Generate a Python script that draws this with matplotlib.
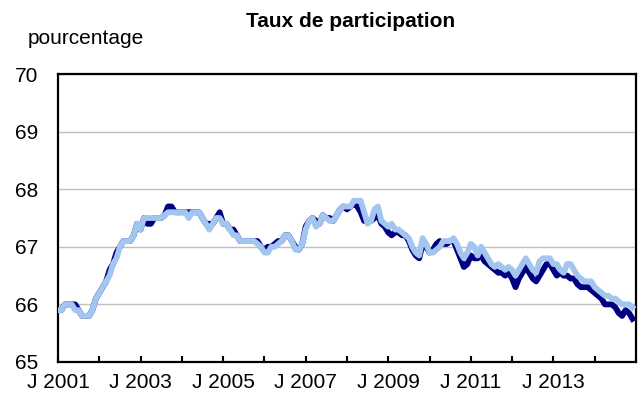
import numpy as np
import matplotlib
matplotlib.use("Agg")
import matplotlib.pyplot as plt

plt.rcParams["font.family"] = ["Liberation Sans", "DejaVu Sans"]

# monthly, Jan 2001 - Dec 2014
start_year = 2001
light = [
    65.9, 65.9, 66.0, 66.0, 66.0, 65.9, 65.9, 65.8, 65.8, 65.8, 65.9, 66.1,
    66.2, 66.3, 66.4, 66.5, 66.7, 66.8, 67.0, 67.1, 67.1, 67.1, 67.2, 67.4,
    67.3, 67.5, 67.5, 67.5, 67.5, 67.5, 67.5, 67.55, 67.6, 67.6, 67.6, 67.6,
    67.6, 67.6, 67.5, 67.6, 67.6, 67.6, 67.5, 67.4, 67.3, 67.4, 67.5, 67.5,
    67.4, 67.4, 67.3, 67.2, 67.2, 67.1, 67.1, 67.1, 67.1, 67.1, 67.05, 67.0,
    66.9, 66.9, 67.0, 67.0, 67.05, 67.1, 67.2, 67.2, 67.1, 66.95, 66.95, 67.05,
    67.3, 67.45, 67.5, 67.35, 67.4, 67.55, 67.5, 67.45, 67.45, 67.55, 67.65, 67.7,
    67.7, 67.7, 67.8, 67.8, 67.8, 67.6, 67.4, 67.45, 67.65, 67.7, 67.45, 67.4,
    67.35, 67.4, 67.3, 67.3, 67.25, 67.2, 67.15, 67.0, 66.9, 66.85, 67.15, 67.05,
    66.9, 66.9, 66.95, 67.0, 67.1, 67.1, 67.1, 67.15, 67.05, 66.9, 66.8, 66.9,
    67.05, 67.0, 66.85, 67.0, 66.9, 66.8, 66.7, 66.65, 66.7, 66.65, 66.6, 66.65,
    66.6, 66.5, 66.6, 66.7, 66.8, 66.7, 66.6, 66.55, 66.75, 66.8, 66.8, 66.8,
    66.7, 66.7, 66.6, 66.55, 66.7, 66.7, 66.6, 66.5, 66.45, 66.4, 66.4, 66.4,
    66.3, 66.25, 66.2, 66.15, 66.15, 66.1, 66.1, 66.05, 66.0, 66.0, 66.0, 65.95,
]
dark = [
    65.9, 65.9, 66.0, 66.0, 66.0, 66.0, 65.9, 65.8, 65.8, 65.8, 65.9, 66.1,
    66.2, 66.3, 66.4, 66.6, 66.7, 66.9, 67.0, 67.1, 67.1, 67.1, 67.2, 67.4,
    67.3, 67.5, 67.4, 67.4, 67.5, 67.5, 67.5, 67.55, 67.7, 67.7, 67.6, 67.6,
    67.6, 67.6, 67.6, 67.6, 67.6, 67.6, 67.5, 67.4, 67.4, 67.4, 67.5, 67.6,
    67.4, 67.4, 67.3, 67.3, 67.2, 67.1, 67.1, 67.1, 67.1, 67.1, 67.1, 67.0,
    66.95, 67.0, 67.0, 67.05, 67.1, 67.1, 67.2, 67.2, 67.1, 67.0, 66.95, 67.05,
    67.35, 67.45, 67.5, 67.45, 67.4, 67.55, 67.5, 67.5, 67.45, 67.55, 67.65, 67.7,
    67.65, 67.7, 67.75, 67.7, 67.6, 67.45, 67.45, 67.45, 67.5, 67.55, 67.4, 67.35,
    67.25, 67.2, 67.25, 67.25, 67.2, 67.2, 67.1, 66.95, 66.85, 66.8, 67.05, 67.0,
    66.9, 66.95, 67.05, 67.1, 67.05, 67.05, 67.1, 67.1, 66.95, 66.8, 66.65, 66.7,
    66.85, 66.8, 66.8, 66.85, 66.75, 66.7, 66.65, 66.6, 66.55, 66.55, 66.5, 66.55,
    66.45, 66.3, 66.45, 66.55, 66.65, 66.55, 66.45, 66.4, 66.5, 66.6, 66.7, 66.7,
    66.6, 66.5, 66.55, 66.5, 66.5, 66.45, 66.45, 66.35, 66.3, 66.3, 66.3, 66.25,
    66.2, 66.15, 66.1, 66.0, 66.0, 66.0, 65.95, 65.85, 65.8, 65.9, 65.85, 65.75,
]
label_years = [2001, 2003, 2005, 2007, 2009, 2011, 2013]


def main():
    x = start_year + np.arange(len(light)) / 12.0

    fig = plt.figure(figsize=(6.4, 4.01), dpi=100)
    ax = fig.add_axes([0.0906, 0.0973, 0.903, 0.718])

    ax.plot(x, dark, color="#000080", lw=4.2, solid_joinstyle="round", zorder=3)
    ax.plot(x, light, color="#a2c6ef", lw=4.2, solid_joinstyle="round", zorder=4)

    ax.set_ylim(65, 70)
    ax.set_yticks([65, 66, 67, 68, 69, 70])
    ax.set_xlim(start_year, start_year + 14)
    years = np.arange(start_year, start_year + 15)
    ax.set_xticks(years)
    ax.set_xticklabels([f"J {y}" if y in label_years else "" for y in years])

    ax.grid(axis="y", color="#c0c0c0", lw=1.0, zorder=0)
    ax.set_axisbelow(True)
    for s in ax.spines.values():
        s.set_linewidth(1.6)
        s.set_color("black")

    ax.tick_params(axis="y", length=0, pad=14, labelsize=15)
    ax.tick_params(axis="x", direction="in", length=4, width=1.5, pad=8, labelsize=15)

    fig.text(0.548, 0.933, "Taux de participation", ha="center", va="baseline",
             fontsize=15, fontweight="bold")
    fig.text(0.044, 0.89, "pourcentage", ha="left", va="baseline", fontsize=15)

    fig.savefig("out.png", dpi=100)


if __name__ == "__main__":
    main()
